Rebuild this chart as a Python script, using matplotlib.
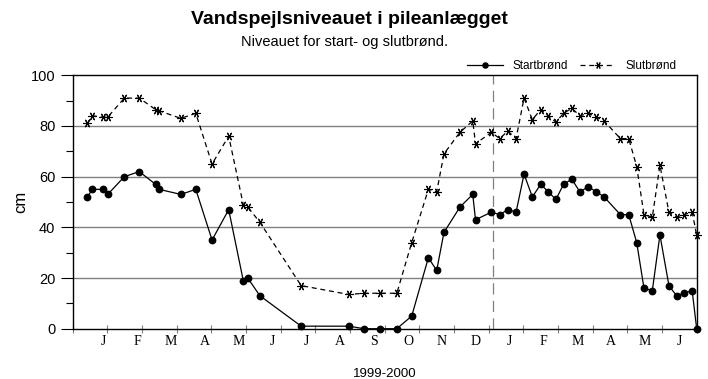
"""Vandspejlsniveauet i pileanlægget - start- og slutbrønd 1999-2000."""

import matplotlib
matplotlib.use("Agg")
import matplotlib.pyplot as plt
from matplotlib.ticker import MultipleLocator, FixedLocator

# x in months from start of the axis (0 = start, 18 = end of June 2000)
MONTH_POS = [0.42, 0.57, 0.88, 1.01, 1.49, 1.92, 2.39, 2.49, 3.12, 3.55,
             4.02, 4.50, 4.92, 5.05, 5.40, 6.59, 7.97, 8.40, 8.86, 9.35,
             9.78, 10.26, 10.50, 10.71, 11.17, 11.54, 11.62, 12.08, 12.32, 12.55,
             12.79, 13.02, 13.26, 13.50, 13.72, 13.94, 14.16, 14.40, 14.63, 14.87,
             15.11, 15.33, 15.80, 16.04, 16.27, 16.48, 16.72, 16.94, 17.20, 17.42,
             17.63, 17.87, 18.00]

START = [52, 55, 55, 53, 60, 62, 57, 55, 53, 55,
         35, 47, 19, 20, 13, 1, 1, 0, 0, 0,
         5, 28, 23, 38, 48, 53, 43, 46, 45, 47,
         46, 61, 52, 57, 54, 51, 57, 59, 54, 56,
         54, 52, 45, 45, 34, 16, 15, 37, 17, 13,
         14, 15, 0]

SLUT = [81, 84, 83.5, 83.5, 91, 91, 86.5, 86, 83, 85,
        65, 76, 49, 48, 42, 17, 13.5, 14, 14, 14,
        34, 55, 54, 69, 77.5, 82, 73, 77.5, 75, 78,
        75, 91, 82.5, 86.5, 84, 81.5, 85, 87, 84, 85,
        83.5, 82, 75, 75, 64, 45, 44, 64.5, 46, 44,
        45, 46, 37]

MONTH_LABELS = ["J", "F", "M", "A", "M", "J", "J", "A", "S",
                "O", "N", "D", "J", "F", "M", "A", "M", "J"]
YEAR_MARK = 12.13

plt.rcParams["font.family"] = ["Liberation Sans", "DejaVu Sans"]

fig = plt.figure(figsize=(7.08, 3.79), dpi=100)
ax = fig.add_axes([0.1027, 0.1327, 0.8813, 0.6686])

ax.plot(MONTH_POS, START, color="black", lw=0.9, marker="o", ms=4.6,
        label="Startbrønd", clip_on=False, zorder=4)
ax.plot(MONTH_POS, SLUT, color="black", lw=0.9, ls=(0, (4, 3)),
        marker=(6, 2, 90), ms=6, mew=0.8, label="Slutbrønd",
        clip_on=False, zorder=4)

ax.axvline(YEAR_MARK, color="#808080", lw=0.9, ls=(0, (9, 5)), zorder=1)

ax.set_xlim(0, 18)
ax.set_ylim(0, 100)

ax.yaxis.set_major_locator(MultipleLocator(20))
ax.yaxis.set_minor_locator(MultipleLocator(10))
ax.tick_params(axis="y", which="major", length=9, width=0.8, labelsize=10.5)
ax.tick_params(axis="y", which="minor", length=5, width=0.8)
for v in (20, 40, 60, 80):
    ax.axhline(v, color="#808080", lw=1.0, zorder=0)

ax.xaxis.set_major_locator(FixedLocator(range(19)))
ax.set_xticklabels([])
ax.tick_params(axis="x", which="major", direction="inout", length=6,
               width=0.8, color="#808080")
lab_pos = [0.88 + 0.977 * k for k in range(len(MONTH_LABELS))]
for xp, lab in zip(lab_pos, MONTH_LABELS):
    ax.text(xp, -2.5, lab, ha="center", va="top", fontsize=10,
            family="Liberation Serif", transform=ax.transData)

for sp in ax.spines.values():
    sp.set_color("black")
    sp.set_linewidth(1.0)

ax.set_ylabel("cm", fontsize=12, labelpad=2)
ax.set_xlabel("1999-2000", fontsize=9.5, labelpad=22)

fig.text(0.494, 0.948, "Vandspejlsniveauet i pileanlægget", ha="center",
         va="center", fontsize=14, fontweight="bold")
fig.text(0.487, 0.889, "Niveauet for start- og slutbrønd.", ha="center",
         va="center", fontsize=10.5)

ax.legend(loc="lower right", bbox_to_anchor=(0.975, 0.995), ncol=2,
          frameon=False, fontsize=8.5, handlelength=3.0, columnspacing=1.0,
          handletextpad=0.85, borderaxespad=0.0, markerscale=0.8)

fig.savefig("out.png", dpi=100)
